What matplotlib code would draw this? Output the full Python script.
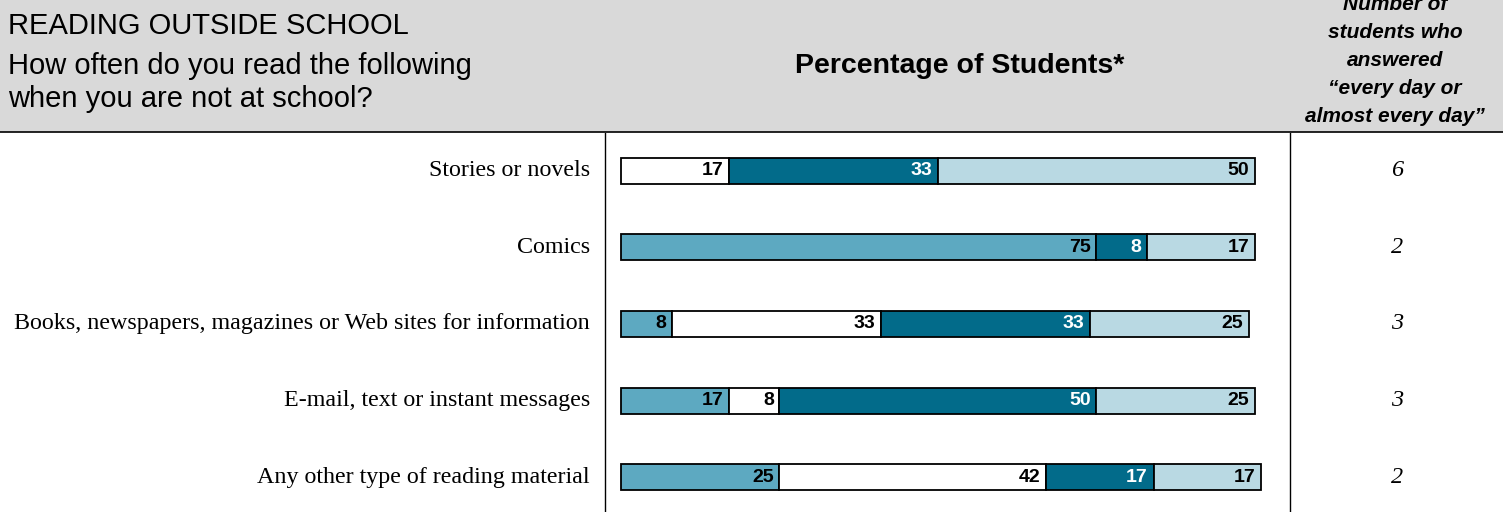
import matplotlib.pyplot as plt
from matplotlib.patches import Rectangle
import numpy as np

items = [
    "Stories or novels",
    "Comics",
    "Books, newspapers, magazines or Web sites for information",
    "E-mail, text or instant messages",
    "Any other type of reading material",
]
never = [0, 75, 8, 17, 25]
monthly = [17, 0, 33, 8, 42]
weekly = [33, 8, 33, 50, 17]
daily = [50, 17, 25, 25, 17]
daily_count = [6, 2, 3, 3, 2]

series = [never, monthly, weekly, daily]
fills = ["#5DA9C1", "#FFFFFF", "#026B8A", "#B9D9E3"]
text_cols = ["black", "black", "white", "black"]

W, H = 1503, 512
fig = plt.figure(figsize=(W / 100, H / 100), dpi=100)
fig.patch.set_facecolor("white")

# grey header band
fig.patches.append(Rectangle((0, 1 - 132 / H), 1, 132 / H, transform=fig.transFigure,
                             facecolor="#D9D9D9", edgecolor="none", zorder=0))
fig.lines.append(plt.Line2D([0, 1], [1 - 132 / H] * 2, transform=fig.transFigure,
                            color="black", lw=1.2))

sans = "Liberation Sans"
serif = "Liberation Serif"


def fy(y):
    return 1 - y / H


fig.text(8 / W, fy(26), "READING OUTSIDE SCHOOL", fontsize=21, family=sans, va="center")
fig.text(8 / W, fy(66), "How often do you read the following", fontsize=21, family=sans, va="center")
fig.text(8 / W, fy(99), "when you are not at school?", fontsize=21, family=sans, va="center")
fig.text(960 / W, fy(66), "Percentage of Students*", fontsize=20.5, family=sans,
         weight="bold", ha="center", va="center")
for y, s in zip([5, 33, 60, 88, 116],
                ["Number of", "students who", "answered", "\u201cevery day or",
                 "almost every day\u201d"]):
    fig.text(1395 / W, fy(y), s, fontsize=15, family=sans, weight="bold",
             style="italic", ha="center", va="center")

# bars axis: full width, 0..100 maps to pixels 621..1255
px_per = (1255 - 621) / 100
ax = fig.add_axes([0, 0, 1, (H - 133) / H])
ax.set_xlim(-621 / px_per, (W - 621) / px_per)
ax.set_ylim(4 + 35 / 77, -38 / 77)
ax.axis("off")

y = np.arange(len(items))
left = np.zeros(len(items))
for vals, fc, tc in zip(series, fills, text_cols):
    vals = np.array(vals, dtype=float)
    for i in range(len(items)):
        if vals[i] <= 0:
            continue
        ax.barh(y[i], vals[i], left=left[i], height=0.34, color=fc,
                edgecolor="black", linewidth=1.3)
        ax.text(left[i] + vals[i] - 0.9, y[i], f"{int(vals[i])}", ha="right",
                va="center", fontsize=14, family=sans, weight="bold", color=tc)
    left += vals

for i, name in enumerate(items):
    ax.text(-31 / px_per, y[i], name, ha="right", va="center", fontsize=17.3, family=serif)
    ax.text((1397 - 621) / px_per, y[i], str(daily_count[i]), ha="center", va="center",
            fontsize=17.5, family=serif, style="italic")

ax.axvline((605 - 621) / px_per, color="black", lw=1)
ax.axvline((1290 - 621) / px_per, color="black", lw=1)

fig.savefig("out.png", dpi=100)
